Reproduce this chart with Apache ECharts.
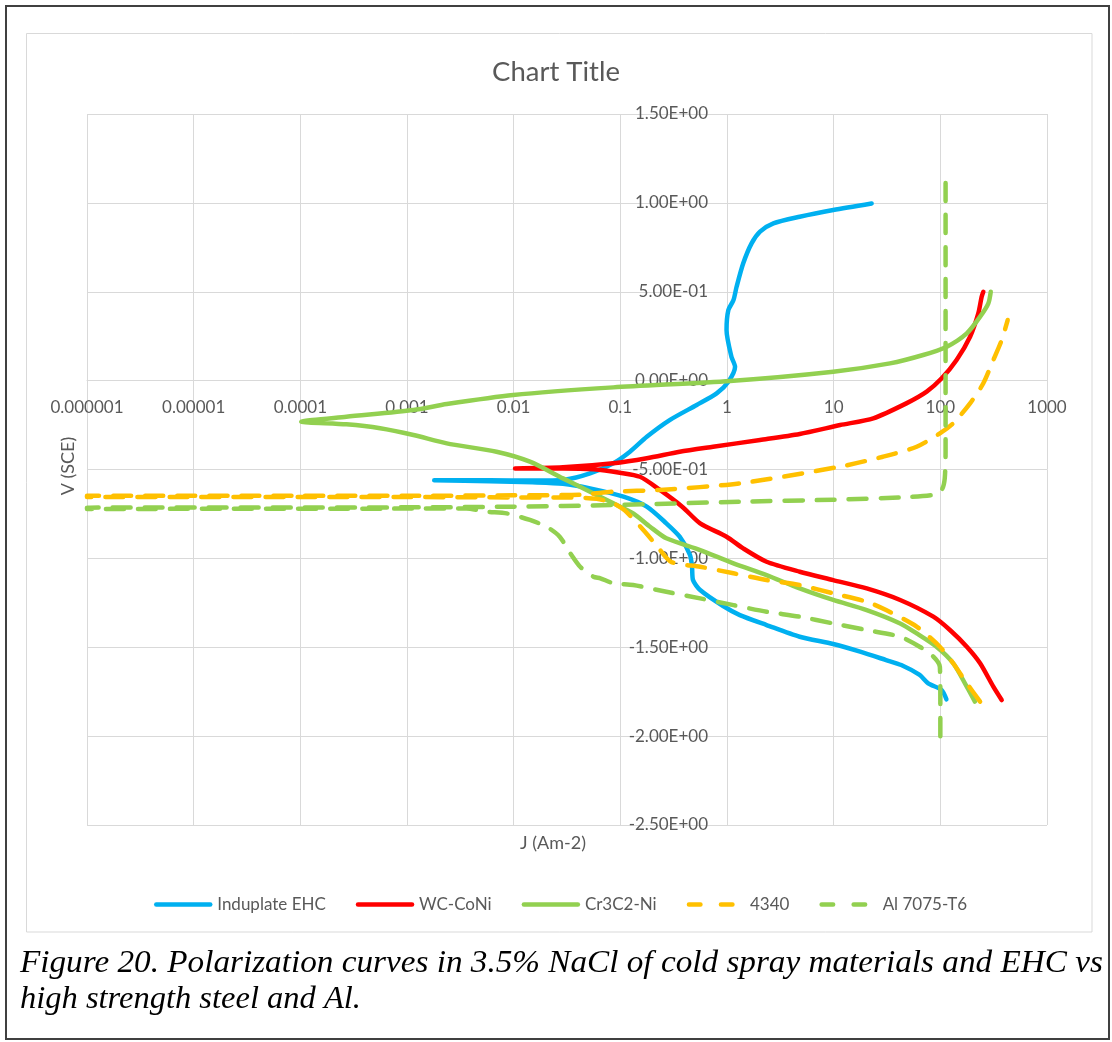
<!DOCTYPE html>
<html>
<head>
<meta charset="utf-8">
<script src="https://cdn.jsdelivr.net/npm/echarts@6/dist/echarts.min.js"></script>
<style>
html,body{margin:0;padding:0;background:#fff;}
#chart{width:1112px;height:1042px;}
</style>
</head>
<body>
<div id="chart"></div>
<script>
// ---- data: [J (A m-2), V (SCE)] ----
const seriesNames = ['Induplate EHC', 'WC-CoNi', 'Cr3C2-Ni', '4340', 'Al 7075-T6'];
const xTickLabels = ['0.000001','0.00001','0.0001','0.001','0.01','0.1','1','10','100','1000'];
const yTickLabels = ['-2.50E+00','-2.00E+00','-1.50E+00','-1.00E+00','-5.00E-01','0.00E+00','5.00E-01','1.00E+00','1.50E+00'];

const induplateEHC = [
  [114,-1.793],[103,-1.741],[77,-1.703],[64,-1.656],[43,-1.60],[31,-1.572],[17.7,-1.525],[9.9,-1.482],
  [4.8,-1.441],[2.35,-1.375],[1.32,-1.319],[0.92,-1.268],[0.56,-1.178],[0.48,-1.122],[0.47,-1.047],
  [0.45,-0.981],[0.36,-0.878],[0.27,-0.803],[0.177,-0.709],[0.107,-0.653],[0.052,-0.606],[0.029,-0.58],
  [0.015,-0.572],[0.006,-0.566],[0.0018,-0.561],
  [0.006,-0.561],[0.015,-0.562],[0.03,-0.557],[0.052,-0.522],[0.086,-0.465],[0.123,-0.40],[0.177,-0.316],
  [0.29,-0.222],[0.52,-0.137],[0.80,-0.072],[1.03,-0.006],[1.19,0.078],[1.1,0.134],[0.99,0.285],
  [1.03,0.397],[1.15,0.453],[1.23,0.528],[1.42,0.66],[1.70,0.772],[2.04,0.838],[2.72,0.885],[4.8,0.922],
  [9.9,0.96],[22.7,0.997]
];
const wcCoNi = [
  [376,-1.797],[314,-1.722],[236,-1.59],[177,-1.497],[123,-1.403],[86,-1.328],[42,-1.234],[20.4,-1.169],
  [9.9,-1.122],[4.8,-1.075],[2.35,-1.019],[1.42,-0.944],[0.99,-0.878],[0.56,-0.803],[0.38,-0.709],
  [0.235,-0.615],[0.153,-0.541],[0.099,-0.518],[0.056,-0.499],[0.029,-0.494],[0.0103,-0.494],
  [0.029,-0.488],[0.086,-0.465],[0.177,-0.437],[0.36,-0.40],[0.74,-0.372],[2.04,-0.334],[4.8,-0.30],
  [11.5,-0.25],[23.5,-0.212],[48,-0.128],[74.5,-0.062],[103,0.013],[142,0.116],[190,0.247],[227,0.378],
  [244,0.472],[253,0.5]
];
const cr3c2Ni = [
  [211,-1.806],[177,-1.722],[132,-1.59],[92,-1.497],[60,-1.422],[42,-1.366],[20.4,-1.291],[9.9,-1.234],
  [4.8,-1.169],[2.35,-1.094],[1.15,-1.028],[0.56,-0.953],[0.27,-0.887],[0.19,-0.822],[0.132,-0.747],
  [0.086,-0.69],[0.052,-0.625],[0.029,-0.55],[0.0142,-0.456],[0.0069,-0.40],[0.00236,-0.353],
  [0.00115,-0.306],[0.00056,-0.268],[0.00027,-0.246],[0.000102,-0.231],
  [0.00027,-0.203],[0.00115,-0.165],[0.00236,-0.132],[0.0099,-0.081],[0.086,-0.038],[1.07,-0.002],
  [9.9,0.05],[33.7,0.097],[69,0.144],[115,0.191],[177,0.266],[236,0.36],[282,0.435],[297,0.5]
];
const steel4340 = [
  [236,-1.806],[177,-1.703],[132,-1.59],[99,-1.497],[60,-1.384],[31,-1.291],[20.4,-1.244],[9.9,-1.197],
  [4.8,-1.15],[2.35,-1.122],[1.15,-1.084],[0.56,-1.047],[0.3,-1.02],[0.22,-0.93],[0.17,-0.85],[0.11,-0.73],
  [0.086,-0.69],[0.06,-0.665],[0.03,-0.657],[0.01,-0.657],[0.001,-0.655],[0.0001,-0.655],[0.00001,-0.655],
  [0.000001,-0.655],
  [0.000001,-0.648],[0.0001,-0.648],[0.001,-0.648],[0.01,-0.645],[0.042,-0.642],[0.086,-0.625],
  [0.235,-0.615],[1.32,-0.578],[11.5,-0.484],[29,-0.428],[60,-0.372],[99,-0.297],[132,-0.24],
  [190,-0.128],[253,-0.015],[314,0.116],[376,0.228],[428,0.341]
];
const al7075 = [
  [100,-2.0],[100,-1.8],[99,-1.61],[86,-1.553],[64,-1.497],[42,-1.441],[20.4,-1.403],[9.9,-1.366],
  [4.8,-1.328],[2.35,-1.30],[1.15,-1.263],[0.56,-1.225],[0.27,-1.188],[0.132,-1.15],[0.086,-1.14],
  [0.065,-1.112],[0.056,-1.103],[0.042,-1.047],[0.034,-0.972],[0.027,-0.878],[0.0204,-0.822],
  [0.0142,-0.784],[0.0086,-0.747],[0.0056,-0.737],[0.0036,-0.719],[0.001,-0.72],[0.000001,-0.722],
  [0.000001,-0.715],[0.001,-0.713],[0.01,-0.709],[0.086,-0.70],[1.32,-0.681],[10,-0.67],[50,-0.655],
  [90,-0.64],[104,-0.61],[110,-0.55],[112,-0.4],[112,0.5],[112,1.12]
];

const seriesData = [induplateEHC, wcCoNi, cr3c2Ni, steel4340, al7075];
const seriesColors = ['#00B0F0', '#FF0000', '#92D050', '#FFC000', '#92D050'];
const seriesDashed = [false, false, false, true, true];

const LABEL_FONT = 'Lato';
const GRID = '#D9D9D9';
const TXT = '#595959';

const chart = echarts.init(document.getElementById('chart'), null, {renderer: 'canvas'});

const series = seriesNames.map((name, i) => ({
  name,
  type: 'line',
  data: seriesData[i],
  showSymbol: false,
  symbol: 'none',
  smooth: 0.25,
  lineStyle: {
    color: seriesColors[i],
    width: 4.5,
    type: seriesDashed[i] ? [18, 14] : 'solid',
    cap: 'round',
    join: 'round'
  },
  itemStyle: {color: seriesColors[i]},
  emphasis: {disabled: true}
}));

const option = {
  animation: false,
  backgroundColor: '#ffffff',
  title: {
    text: 'Chart Title',
    left: 'center',
    top: 53,
    textStyle: {fontFamily: LABEL_FONT, fontSize: 27.5, fontWeight: 'normal', color: TXT}
  },
  legend: {
    left: 149,
    top: 891,
    itemWidth: 54,
    itemHeight: 18,
    itemGap: 30,
    textStyle: {fontFamily: LABEL_FONT, fontSize: 17, color: TXT, padding: [0, 0, 0, 2]},
    itemStyle: {color: 'rgba(0,0,0,0)', borderWidth: 0, opacity: 0},
    lineStyle: {width: 4.5, cap: 'round'},
    data: seriesNames.map((n, i) => ({
      name: n,
      lineStyle: seriesDashed[i] ? {type: [11.5, 20.5], width: 4.5, cap: 'round'} : {type: 'solid', width: 4.5, cap: 'round'}
    }))
  },
  grid: {left: 87, top: 114, right: 65, bottom: 217},
  xAxis: {
    type: 'log',
    logBase: 10,
    min: 1e-6,
    max: 1000,
    splitNumber: 9,
    offset: -444.4,
    axisLine: {show: true, onZero: false, lineStyle: {color: GRID, width: 1}},
    axisTick: {show: false},
    minorTick: {show: false},
    splitLine: {show: true, lineStyle: {color: GRID, width: 1}},
    axisLabel: {
      margin: 18,
      showMinLabel: true,
      showMaxLabel: true,
      fontFamily: LABEL_FONT,
      fontSize: 17,
      color: TXT,
      formatter: v => xTickLabels[Math.round(Math.log10(v)) + 6]
    }
  },
  yAxis: {
    type: 'value',
    min: -2.5,
    max: 1.5,
    interval: 0.5,
    offset: -641,
    axisLine: {show: false},
    axisTick: {show: false},
    splitLine: {show: true, lineStyle: {color: GRID, width: 1}},
    axisLabel: {
      margin: 20,
      fontFamily: LABEL_FONT,
      fontSize: 17,
      color: TXT,
      formatter: v => yTickLabels[Math.round((v + 2.5) / 0.5)]
    }
  },
  graphic: [
    {type: 'rect', silent: true, z: -10, shape: {x: 6, y: 6, width: 1103, height: 1033},
     style: {fill: null, stroke: '#404040', lineWidth: 2}},
    {type: 'rect', silent: true, z: -10, shape: {x: 26.5, y: 33.5, width: 1065.5, height: 898.5},
     style: {fill: null, stroke: GRID, lineWidth: 1}},
    {type: 'text', silent: true, x: 553, y: 843,
     style: {text: 'J (Am-2)', fontFamily: LABEL_FONT, fontSize: 18, fill: TXT, align: 'center', verticalAlign: 'middle'}},
    {type: 'text', silent: true, x: 68, y: 466, rotation: Math.PI / 2,
     style: {text: 'V (SCE)', fontFamily: LABEL_FONT, fontSize: 18, fill: TXT, align: 'center', verticalAlign: 'middle'}},
    {type: 'text', silent: true, x: 20, y: 963, scaleX: 1.022,
     style: {text: 'Figure 20. Polarization curves in 3.5% NaCl of cold spray materials and EHC vs',
       fontFamily: '"Liberation Serif", "Times New Roman", serif', fontStyle: 'italic', fontSize: 32.5, fill: '#000', align: 'left', verticalAlign: 'middle'}},
    {type: 'text', silent: true, x: 20, y: 999.5,
     style: {text: 'high strength steel and Al.',
       fontFamily: '"Liberation Serif", "Times New Roman", serif', fontStyle: 'italic', fontSize: 32.5, fill: '#000', align: 'left', verticalAlign: 'middle'}}
  ],
  series
};
chart.setOption(option);
</script>
</body>
</html>
